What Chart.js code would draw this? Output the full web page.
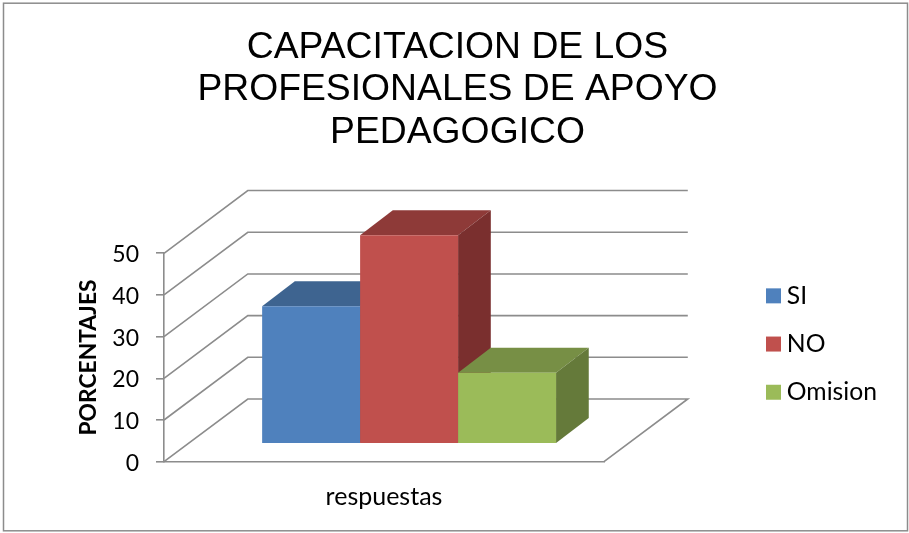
<!DOCTYPE html>
<html><head><meta charset="utf-8">
<style>html,body{margin:0;padding:0;background:#fff}canvas{display:block}</style>
<script src="https://cdn.jsdelivr.net/npm/chart.js@4"></script>
</head><body><canvas id="c" width="909" height="533"></canvas>
<script>
const titleLines = ['CAPACITACION DE LOS', 'PROFESIONALES DE APOYO', 'PEDAGOGICO'];
const categories = ['respuestas'];
const siValues = [33];
const noValues = [50];
const omisionValues = [17];
const seriesNames = ['SI', 'NO', 'Omision'];
const axisTitle = 'PORCENTAJES';
const yTicksMax = 50;
const yTicksStep = 10;

const frontColors = ['#4F81BD', '#C0504D', '#9BBB59'];
const topColors = ['#3E6490', '#8E3A38', '#778F45'];
const sideColors = ['#335479', '#7A2F2E', '#657A3A'];
const GRID = '#8C8C8C';
const WALL = {x: 83.8, y: -62.7};
const SHIFT = {x: 25.1, y: -18};
const DEPTH = {x: 32.7, y: -25};
const FONT = 'Lato, Carlito, sans-serif';

function drawSides(c, meta, i) {
  meta.data.forEach(b => {
    const p = b.getProps(['x', 'y', 'base', 'width'], true);
    const l = p.x - p.width / 2, r = p.x + p.width / 2;
    c.fillStyle = topColors[i];
    c.beginPath();
    c.moveTo(l, p.y);
    c.lineTo(l + DEPTH.x, p.y + DEPTH.y);
    c.lineTo(r + DEPTH.x, p.y + DEPTH.y);
    c.lineTo(r, p.y);
    c.closePath();
    c.fill();
    c.fillStyle = sideColors[i];
    c.beginPath();
    c.moveTo(r, p.y);
    c.lineTo(r + DEPTH.x, p.y + DEPTH.y);
    c.lineTo(r + DEPTH.x, p.base + DEPTH.y);
    c.lineTo(r, p.base);
    c.closePath();
    c.fill();
  });
}

const frame3d = {
  id: 'frame3d',
  beforeLayout(chart) {
    const l = chart.legend;
    if (l && !l._wrapped) {
      const f = l.fit;
      l.fit = function () { f.call(this); this.width = 305; };
      l._wrapped = true;
    }
  },
  afterLayout(chart) {
    chart.legend.left = 749;
    chart.legend.top = 260;
  },
  beforeDraw(chart) {
    const c = chart.ctx;
    c.save();
    c.fillStyle = '#fff';
    c.fillRect(0, 0, chart.width, chart.height);
    c.strokeStyle = '#8C8C8C';
    c.lineWidth = 1.5;
    c.strokeRect(3.5, 3.2, 904, 527.6);
    c.restore();
  },
  beforeDatasetsDraw(chart) {
    const c = chart.ctx, a = chart.chartArea, y = chart.scales.y;
    c.save();
    c.strokeStyle = GRID;
    c.lineWidth = 1.6;
    y.ticks.forEach(t => {
      const py = y.getPixelForValue(t.value);
      c.beginPath();
      c.moveTo(a.left, py);
      c.lineTo(a.left + WALL.x, py + WALL.y);
      c.lineTo(a.right + WALL.x, py + WALL.y);
      if (t.value === 0) c.lineTo(a.right, py);
      c.stroke();
    });
    c.restore();
    // left-to-right painting so nearer bars overlap their neighbours' sides
    chart.data.datasets.forEach((d, i) => {
      const meta = chart.getDatasetMeta(i);
      c.save();
      c.translate(SHIFT.x, SHIFT.y);
      drawSides(c, meta, i);
      meta.controller.draw();
      c.restore();
    });
    return false;
  }
};

new Chart(document.getElementById('c'), {
  type: 'bar',
  plugins: [frame3d],
  data: {
    labels: categories,
    datasets: [
      {label: seriesNames[0], data: siValues, backgroundColor: frontColors[0]},
      {label: seriesNames[1], data: noValues, backgroundColor: frontColors[1]},
      {label: seriesNames[2], data: omisionValues, backgroundColor: frontColors[2]}
    ]
  },
  options: {
    responsive: false,
    animation: false,
    devicePixelRatio: 1,
    layout: {padding: {left: 6, right: 0, top: 0, bottom: 0}},
    datasets: {bar: {categoryPercentage: 0.668, barPercentage: 1, borderWidth: 0, clip: false}},
    plugins: {
      tooltip: {enabled: false},
      title: {
        display: true,
        text: titleLines,
        color: '#000',
        font: {family: 'Liberation Sans, Arial, sans-serif', size: 37.3, weight: 'normal', lineHeight: 1.14},
        padding: {top: 26, bottom: 99.7}
      },
      legend: {
        position: 'right',
        align: 'start',
        labels: {
          usePointStyle: true,
          pointStyle: 'rect',
          boxWidth: 2,
          boxHeight: 15,
          padding: 23.5,
          color: '#000',
          font: {family: FONT, size: 24.7}
        }
      }
    },
    scales: {
      x: {
        afterFit(s) { s.height = 71.3; },
        grid: {display: false},
        border: {display: true, color: GRID, width: 1.6},
        ticks: {color: '#000', padding: 12.5, font: {family: FONT, size: 25}}
      },
      y: {
        min: 0,
        max: yTicksMax,
        afterFit(s) { s.width = 158; },
        grid: {drawOnChartArea: false, drawTicks: true, tickLength: 8, color: GRID, lineWidth: 1.6},
        border: {display: true, color: GRID, width: 1.6},
        ticks: {stepSize: yTicksStep, color: '#000', padding: 17, labelOffset: 1.5, font: {family: FONT, size: 23}},
        title: {
          display: true,
          text: axisTitle,
          color: '#000',
          font: {family: FONT, size: 22.8, weight: 'bold'},
          padding: {top: 69, bottom: 0}
        }
      }
    }
  }
});
</script></body></html>
